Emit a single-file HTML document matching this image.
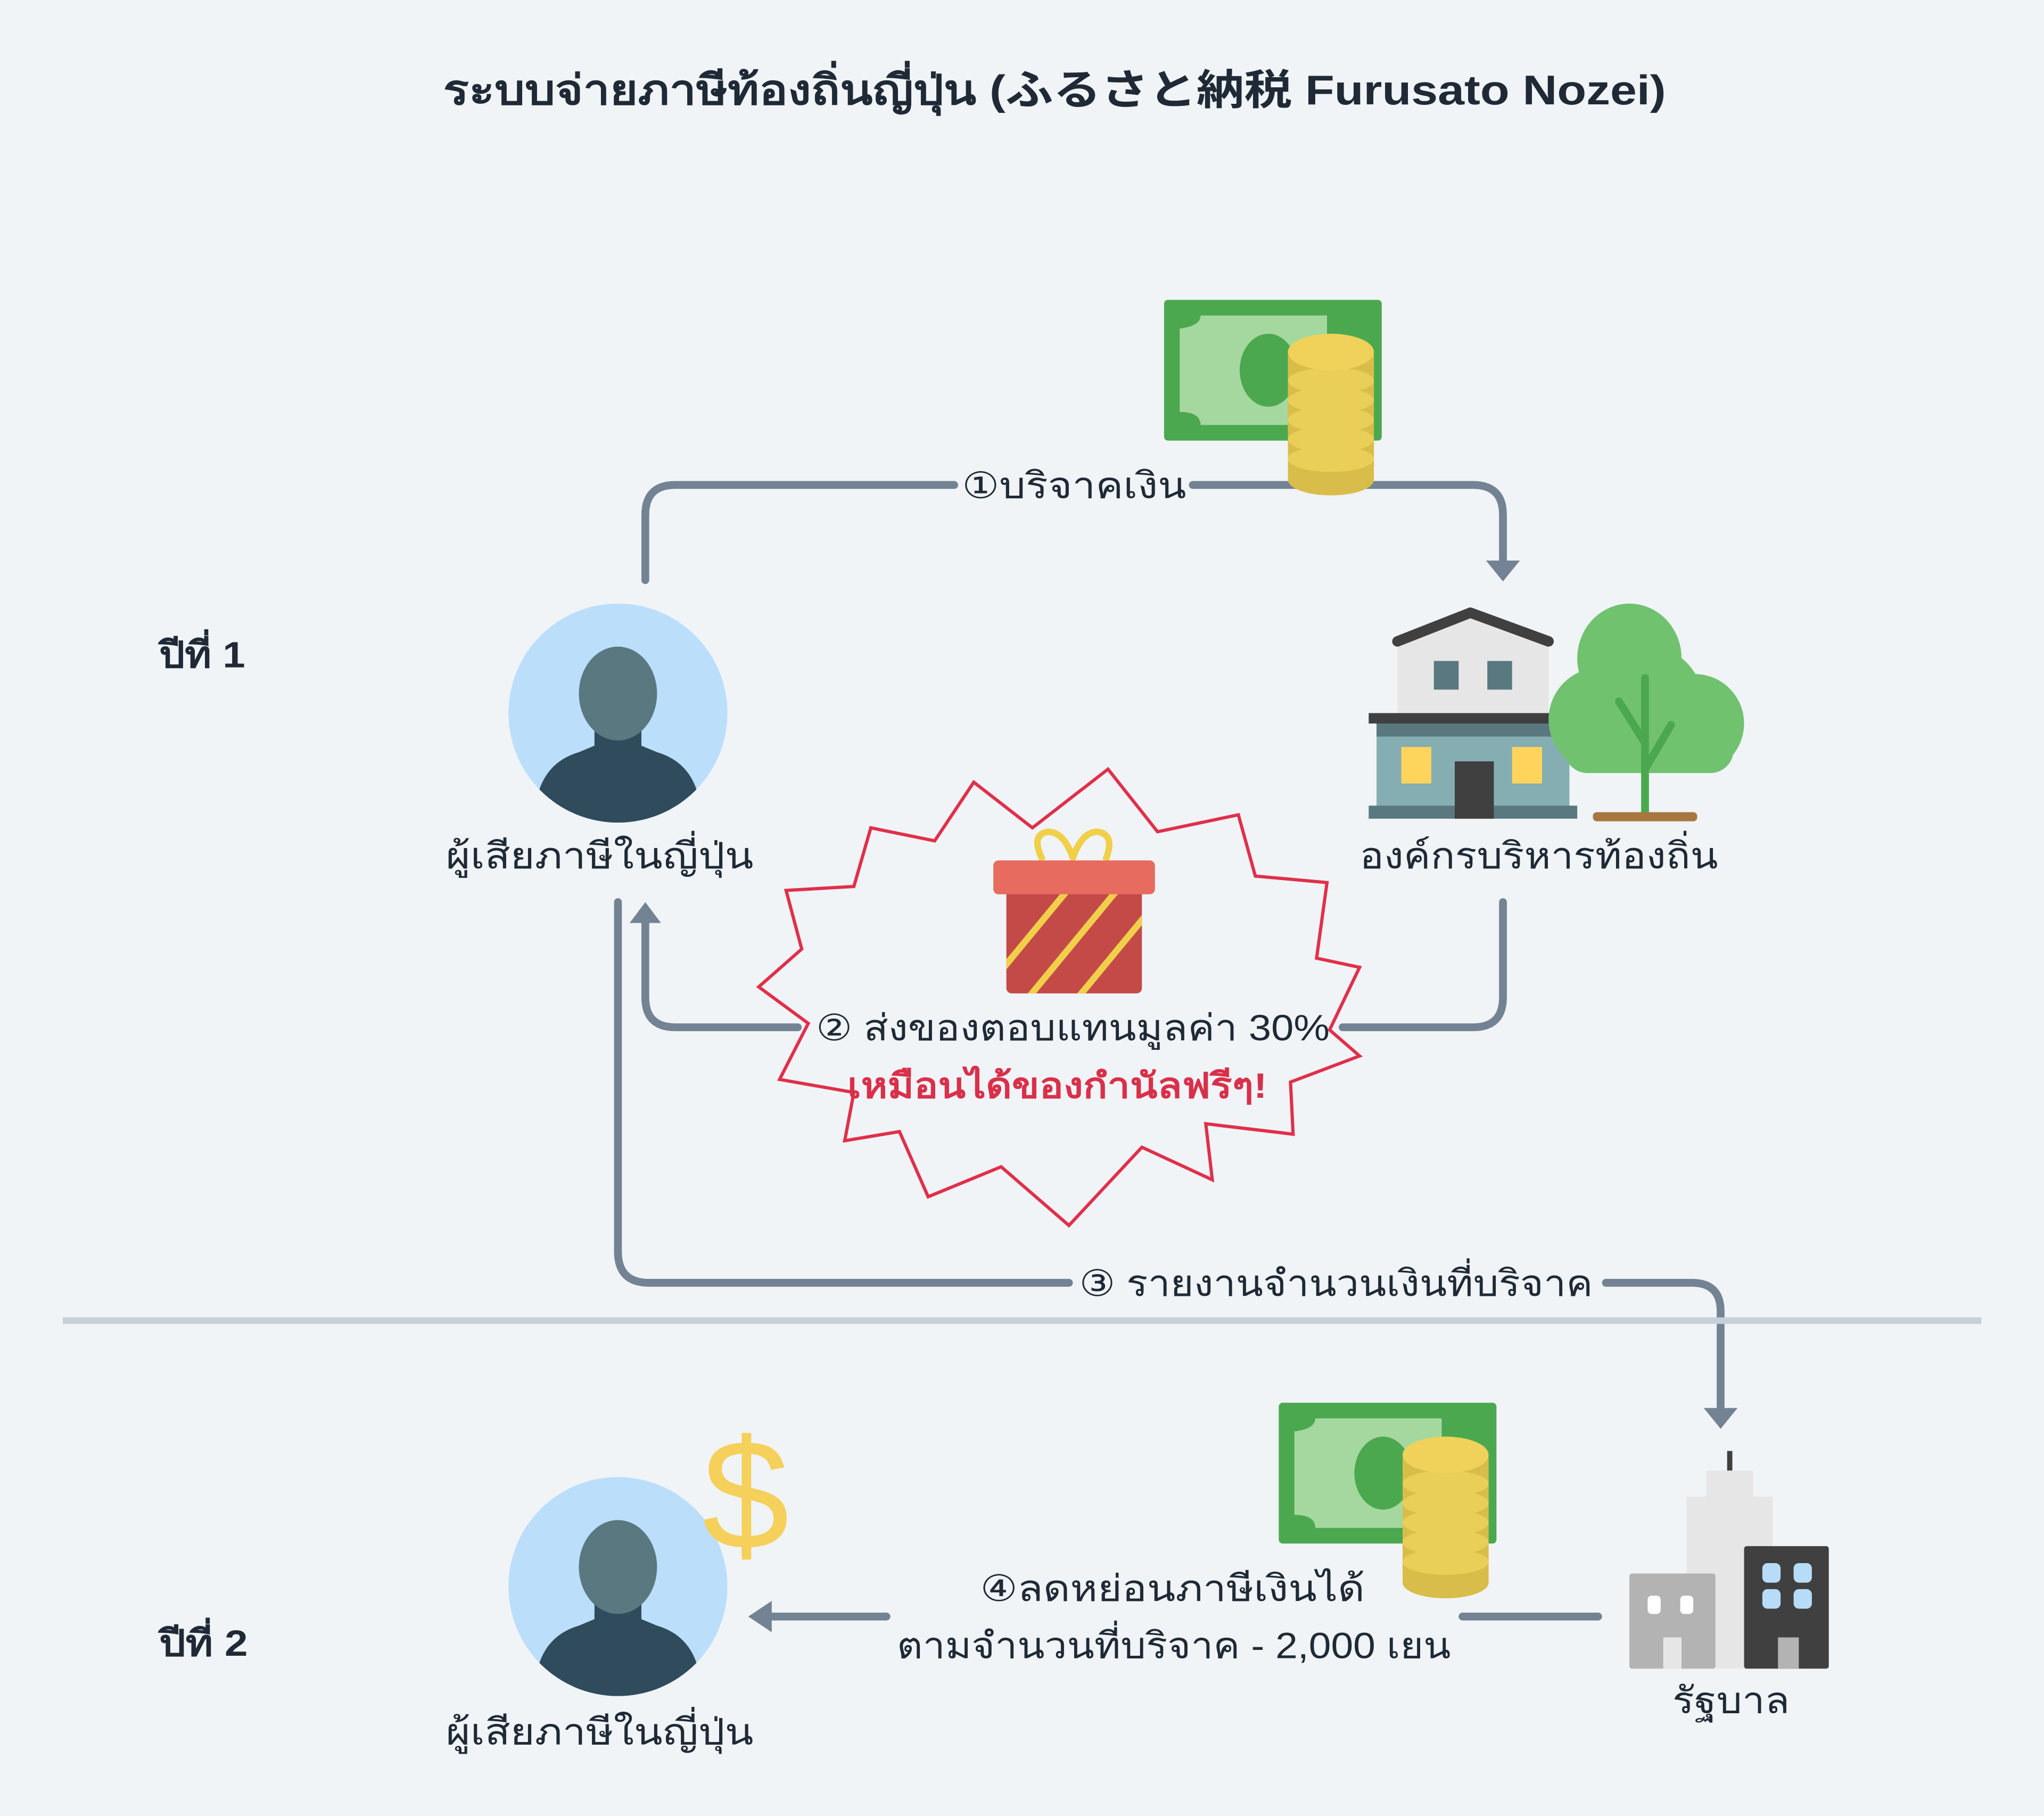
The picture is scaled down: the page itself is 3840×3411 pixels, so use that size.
<!DOCTYPE html>
<html><head><meta charset="utf-8"><style>
html,body{margin:0;padding:0;background:#f0f4f7;}
svg{display:block;}
text{font-family:"Liberation Sans","DejaVu Sans","Noto Sans CJK JP",sans-serif;fill:#1f2a36;}
</style></head><body>
<svg width="3840" height="3411" viewBox="0 0 1568 1393" xmlns="http://www.w3.org/2000/svg">
<defs>
<g id="person">
 <circle cx="0" cy="0" r="84" fill="#bbdefb"/>
 <clipPath id="pc"><circle cx="0" cy="0" r="84"/></clipPath>
 <g clip-path="url(#pc)">
  <path d="M-64,84 Q-64,40 -30,30 L-18,25 L18,25 L30,30 Q64,40 64,84 Z" fill="#2f4b5c"/>
  <rect x="-18" y="10" width="36" height="22" fill="#2f4b5c"/>
  <ellipse cx="0" cy="-15" rx="30" ry="36" fill="#5a7880"/>
 </g>
</g>
<g id="coins">
 <rect x="0" y="20" width="66" height="96" fill="#d9bd4a"/>
 <ellipse cx="33" cy="116" rx="33" ry="12" fill="#d9bd4a"/>
 <g fill="#e9cf58">
  <ellipse cx="33" cy="100" rx="33" ry="10"/>
  <ellipse cx="33" cy="85" rx="33" ry="10"/>
  <ellipse cx="33" cy="70" rx="33" ry="10"/>
  <ellipse cx="33" cy="55" rx="33" ry="10"/>
  <ellipse cx="33" cy="40" rx="33" ry="10"/>
 </g>
 <ellipse cx="33" cy="18" rx="33" ry="14" fill="#f0d25a"/>
</g>
<g id="money">
 <rect x="0" y="0" width="167" height="108" rx="3" fill="#4ca84f"/>
 <path d="M12,22 Q28,20 28,12 H125 V96 H28 Q28,86 12,86 Z" fill="#a5d89f"/>
 <ellipse cx="80" cy="54" rx="22" ry="28" fill="#4ca84f"/>
</g>
</defs>
<rect width="1568" height="1393" fill="#f0f4f7"/>
<text x="340" y="80" font-size="32" font-weight="bold" textLength="938" lengthAdjust="spacingAndGlyphs">ระบบจ่ายภาษีท้องถิ่นญี่ปุ่น (ふるさと納税 Furusato Nozei)</text>
<text x="122" y="512" font-size="28" font-weight="bold" textLength="66" lengthAdjust="spacingAndGlyphs">ปีที่ 1</text>
<text x="122" y="1270" font-size="28" font-weight="bold" textLength="68" lengthAdjust="spacingAndGlyphs">ปีที่ 2</text>

<g fill="none" stroke="#738393" stroke-width="6" stroke-linecap="round">
 <path d="M495,445 V395 Q495,372 518,372 H732"/>
 <path d="M915,372 H1130 Q1153,372 1153,395 V430"/>
 <path d="M1153,692 V765 Q1153,788 1130,788 H1030"/>
 <path d="M612,788 H518 Q495,788 495,765 V708"/>
 <path d="M474,692 V960 Q474,984 498,984 H820"/>
 <path d="M1232,984 H1298 Q1320,984 1320,1006 V1080"/>
 <path d="M1226,1240 H1122"/>
 <path d="M680,1240 H592"/>
</g>
<g fill="#738393">
 <path d="M1140,430 L1166,430 L1153,446 Z"/>
 <path d="M483,708 L507,708 L495,692 Z"/>
 <path d="M1307,1080 L1333,1080 L1320,1096 Z"/>
 <path d="M592,1228 L592,1252 L574,1240 Z"/>
</g>

<use href="#money" x="893" y="230"/>
<use href="#coins" x="988" y="252"/>
<text x="738" y="382" font-size="28" textLength="172" lengthAdjust="spacingAndGlyphs">①บริจาคเงิน</text>

<use href="#person" x="474" y="547"/>
<text x="342" y="666" font-size="28" textLength="236" lengthAdjust="spacingAndGlyphs">ผู้เสียภาษีในญี่ปุ่น</text>

<g>
 <path d="M1072,492 L1128,470 L1188,492 V550 H1072 Z" fill="#e6e6e6"/>
 <path d="M1072,492 L1128,470 L1188,492" fill="none" stroke="#404040" stroke-width="8" stroke-linejoin="round" stroke-linecap="round"/>
 <rect x="1100" y="507" width="19" height="22" fill="#5a7880"/>
 <rect x="1141" y="507" width="19" height="22" fill="#5a7880"/>
 <rect x="1050" y="547" width="160" height="8" fill="#404040"/>
 <rect x="1056" y="555" width="148" height="65" fill="#84aeb2"/>
 <rect x="1056" y="555" width="148" height="10" fill="#5a7880"/>
 <rect x="1075" y="573" width="23" height="28" fill="#ffd45c"/>
 <rect x="1160" y="573" width="23" height="28" fill="#ffd45c"/>
 <rect x="1050" y="618" width="160" height="10" fill="#5a7880"/>
 <rect x="1116" y="584" width="30" height="44" fill="#404040"/>
</g>
<g fill="#70c26f">
 <ellipse cx="1250" cy="505" rx="40" ry="42"/>
 <circle cx="1262" cy="540" r="45"/>
 <circle cx="1228" cy="552" r="40"/>
 <circle cx="1300" cy="555" r="38"/>
 <rect x="1200" y="555" width="130" height="38" rx="18"/>
</g>
<path d="M1262,520 V625 M1262,570 L1242,538 M1262,590 L1282,556" stroke="#4ca84f" stroke-width="6" stroke-linecap="round" fill="none"/>
<rect x="1222" y="623" width="80" height="7" rx="3" fill="#a7773f"/>
<text x="1043" y="666" font-size="28" textLength="275" lengthAdjust="spacingAndGlyphs">องค์กรบริหารท้องถิ่น</text>

<polygon points="747,600 792,635 850,590 888,638 950,625 963,672 1018,677 1010,735 1043,742 1020,790 1043,810 990,830 992,870 925,862 930,905 876,880 820,940 768,895 712,918 690,868 648,875 655,838 598,828 620,785 582,757 615,728 603,683 655,680 668,635 717,645" fill="#f0f4f7" stroke="#e0304a" stroke-width="2.5"/>
<g>
 <path d="M800,660 Q790,640 804,638 Q816,638 823,658 Q830,638 842,638 Q856,640 848,660" fill="none" stroke="#f0d04a" stroke-width="5"/>
 <rect x="772" y="683" width="104" height="79" rx="4" fill="#c44a48"/>
 <clipPath id="gc"><rect x="772" y="683" width="104" height="79"/></clipPath>
 <g clip-path="url(#gc)" stroke="#f0d04a" stroke-width="5">
  <line x1="747" y1="770" x2="827" y2="673"/>
  <line x1="785" y1="770" x2="865" y2="673"/>
  <line x1="823" y1="770" x2="903" y2="673"/>
 </g>
 <rect x="762" y="660" width="124" height="26" rx="4" fill="#e76b5e"/>
</g>
<text x="626" y="798" font-size="28" textLength="394" lengthAdjust="spacingAndGlyphs">② ส่งของตอบแทนมูลค่า 30%</text>
<text x="650" y="842" font-size="27" font-weight="bold" textLength="322" lengthAdjust="spacingAndGlyphs" style="fill:#d9304a">เหมือนได้ของกำนัลฟรีๆ!</text>

<text x="828" y="994" font-size="28" textLength="394" lengthAdjust="spacingAndGlyphs">③ รายงานจำนวนเงินที่บริจาค</text>
<line x1="48" y1="1013" x2="1520" y2="1013" stroke="#c6d0d9" stroke-width="5"/>

<use href="#person" x="474" y="1217"/>
<text x="572" y="1188" font-size="120" text-anchor="middle" style="fill:#f5d05a">$</text>
<text x="342" y="1338" font-size="28" textLength="236" lengthAdjust="spacingAndGlyphs">ผู้เสียภาษีในญี่ปุ่น</text>

<use href="#money" x="981" y="1076"/>
<use href="#coins" x="1076" y="1098"/>
<text x="752" y="1228" font-size="28" textLength="295" lengthAdjust="spacingAndGlyphs">④ลดหย่อนภาษีเงินได้</text>
<text x="688" y="1272" font-size="28" textLength="425" lengthAdjust="spacingAndGlyphs">ตามจำนวนที่บริจาค - 2,000 เยน</text>

<g>
 <rect x="1325" y="1113" width="4" height="16" fill="#404040"/>
 <rect x="1309" y="1128" width="36" height="25" fill="#e6e6e6"/>
 <rect x="1294" y="1148" width="66" height="132" fill="#e6e6e6"/>
 <rect x="1250" y="1207" width="66" height="73" rx="2" fill="#b3b3b3"/>
 <rect x="1264" y="1224" width="10" height="14" rx="3" fill="#fff"/>
 <rect x="1289" y="1224" width="10" height="14" rx="3" fill="#fff"/>
 <rect x="1276" y="1256" width="14" height="24" fill="#e6e6e6"/>
 <rect x="1338" y="1186" width="65" height="94" rx="2" fill="#404040"/>
 <rect x="1352" y="1199" width="14" height="15" rx="4" fill="#b7dcf7"/>
 <rect x="1376" y="1199" width="14" height="15" rx="4" fill="#b7dcf7"/>
 <rect x="1352" y="1219" width="14" height="15" rx="4" fill="#b7dcf7"/>
 <rect x="1376" y="1219" width="14" height="15" rx="4" fill="#b7dcf7"/>
 <rect x="1364" y="1256" width="16" height="24" fill="#b3b3b3"/>
</g>
<text x="1283" y="1314" font-size="28" textLength="90" lengthAdjust="spacingAndGlyphs">รัฐบาล</text>
</svg>
</body></html>
